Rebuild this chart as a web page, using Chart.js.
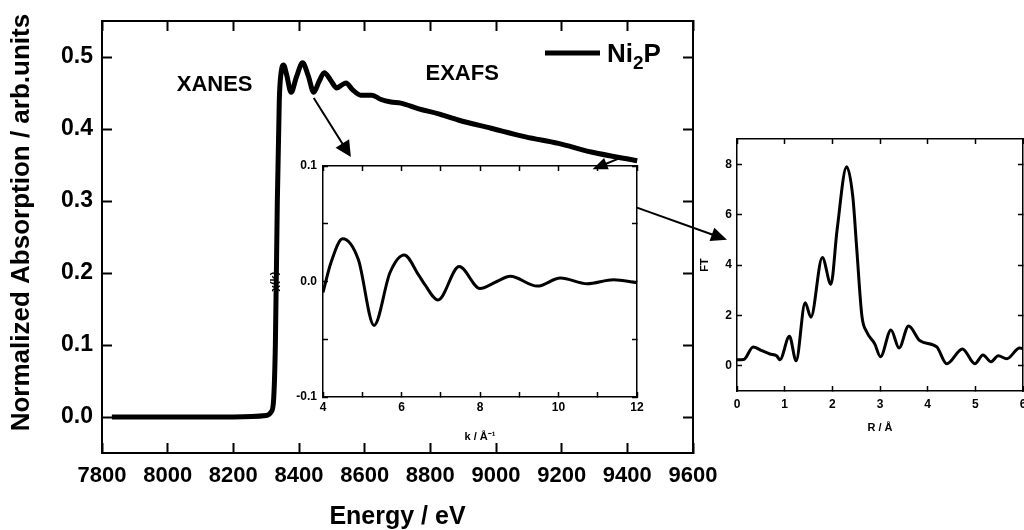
<!DOCTYPE html>
<html>
<head>
<meta charset="utf-8">
<title>Ni2P XAS</title>
<script src="https://cdn.jsdelivr.net/npm/chart.js@4.4.1/dist/chart.umd.min.js"></script>
<style>
  html, body { margin: 0; padding: 0; background: #fff; }
  #stage { position: relative; width: 1024px; height: 530px; overflow: hidden; }
  #stage canvas { position: absolute; }
  #mainCanvas { left: 0; top: 0; }
  #insetCanvas { left: 250px; top: 150px; }
  #ftCanvas { left: 690px; top: 120px; }
  #arrowCanvas { left: 0; top: 0; pointer-events: none; }
</style>
</head>
<body>
<div id="stage">
  <canvas id="mainCanvas" width="1024" height="530"></canvas>
  <canvas id="insetCanvas" width="400" height="300"></canvas>
  <canvas id="ftCanvas" width="334" height="320"></canvas>
  <canvas id="arrowCanvas" width="1024" height="530"></canvas>
</div>
<script>
// ---- data ----
// main XAS spectrum (Ni K-edge)
const energy = [7830, 8000, 8200, 8300, 8315, 8322, 8328, 8334, 8340, 8346, 8353, 8362, 8376, 8392, 8411,
  8428, 8445, 8461, 8477, 8496, 8515, 8530, 8543, 8562, 8588, 8622, 8650, 8680, 8710, 8765, 8825, 8885,
  8985, 9090, 9190, 9290, 9430];
const absorption = [0.0, 0.0, 0.0, 0.002, 0.007, 0.02, 0.1, 0.3, 0.44, 0.48, 0.489, 0.476, 0.451, 0.472, 0.492,
  0.474, 0.451, 0.466, 0.478, 0.468, 0.457, 0.461, 0.464, 0.455, 0.447, 0.447, 0.441, 0.4375, 0.436, 0.428, 0.421, 0.4125,
  0.401, 0.389, 0.380, 0.368, 0.356];
const energyTicks = [7800, 8000, 8200, 8400, 8600, 8800, 9000, 9200, 9400, 9600];
const absorptionTicks = [0.0, 0.1, 0.2, 0.3, 0.4, 0.5];

// inset: chi(k)
const kValues = [4.0, 4.2, 4.5, 4.9, 5.3, 5.71, 6.07, 6.43, 6.6, 6.93, 7.47, 8.0, 8.43, 8.77, 9.46, 10.05, 10.73, 11.4, 12.0];
const chiValues = [-0.0095, 0.016, 0.037, 0.019, -0.038, 0.008, 0.023, 0.006, -0.003, -0.016, 0.013, -0.006, 0.0, 0.0045,
  -0.004, 0.003, -0.002, 0.0015, -0.001];
const kTicks = [4, 5, 6, 7, 8, 9, 10, 11, 12];
const chiTicks = [-0.1, -0.05, 0, 0.05, 0.1];

// right panel: Fourier transform
const rValues = [0, 0.14, 0.34, 0.52, 0.69, 0.83, 0.9, 1.1, 1.24, 1.43, 1.55, 1.79, 1.97, 2.1, 2.3, 2.43, 2.51, 2.62,
  2.72, 2.89, 3.01, 3.23, 3.4, 3.6, 3.84, 4.19, 4.4, 4.73, 4.99, 5.16, 5.33, 5.48, 5.66, 5.93, 6.0];
const ftValues = [0.24, 0.25, 0.75, 0.6, 0.47, 0.4, 0.24, 1.17, 0.2, 2.5, 1.93, 4.3, 3.24, 5.4, 7.9, 6.7, 4.7, 1.98,
  1.35, 0.87, 0.36, 1.42, 0.71, 1.58, 0.99, 0.75, 0.08, 0.67, 0.08, 0.43, 0.16, 0.4, 0.28, 0.71, 0.68];
const rTicks = [0, 1, 2, 3, 4, 5, 6];
const ftTicks = [0, 2, 4, 6, 8];

const FONT = "'Liberation Sans', Arial, sans-serif";
Chart.defaults.font.family = FONT;
Chart.defaults.font.weight = 'bold';
Chart.defaults.color = '#000';

// ---- helpers ----
const toPoints = (xs, ys) => xs.map((v, i) => ({ x: v, y: ys[i] }));

// box axis: inward ticks, fixed box size, optional labels/title
function boxAxis(o) {
  return {
    type: 'linear',
    position: o.position,
    min: o.min,
    max: o.max,
    afterBuildTicks: scale => { scale.ticks = o.ticks.map(v => ({ value: v })); },
    afterFit: scale => {
      if (scale.isHorizontal()) scale.height = o.size; else scale.width = o.size;
      scale.paddingLeft = scale.paddingRight = scale.paddingTop = scale.paddingBottom = 0;
    },
    grid: {
      drawOnChartArea: false,
      drawTicks: true,
      tickLength: -o.tick,
      tickColor: '#000',
      tickWidth: o.line,
      color: '#000'
    },
    border: { display: true, color: '#000', width: o.line },
    ticks: {
      display: !!o.label,
      autoSkip: false,
      maxRotation: 0,
      padding: o.pad || 0,
      font: o.font,
      callback: o.label || (() => '')
    },
    title: o.title || { display: false }
  };
}

function baseOptions(padding, scales) {
  return {
    responsive: false,
    animation: false,
    devicePixelRatio: 1,
    layout: { padding },
    plugins: { legend: { display: false }, tooltip: { enabled: false } },
    elements: { point: { radius: 0 } },
    scales
  };
}

// ---- main chart: labels and legend drawn on top ----
const regionLabels = [
  { text: 'XANES', energy: 8143, level: 0.461 },
  { text: 'EXAFS', energy: 8897, level: 0.476 }
];
const mainYTitle = 'Normalized Absorption / arb.units';

const mainLabels = {
  id: 'mainLabels',
  afterDatasetsDraw(chart) {
    const { ctx, chartArea, scales: { x, y } } = chart;
    ctx.save();
    ctx.fillStyle = '#000';
    ctx.textAlign = 'center';
    ctx.textBaseline = 'middle';
    ctx.font = `bold 22px ${FONT}`;
    regionLabels.forEach(r => ctx.fillText(r.text, x.getPixelForValue(r.energy), y.getPixelForValue(r.level)));

    // y-axis title, sits a bit above the axis centre in the original
    ctx.save();
    ctx.translate(22, y.getPixelForValue(0.27));
    ctx.rotate(-Math.PI / 2);
    ctx.font = `bold 26px ${FONT}`;
    ctx.fillText(mainYTitle, 0, 0);
    ctx.restore();

    // legend: line sample + Ni2P with subscript
    const ds = chart.data.datasets[0];
    const ly = chartArea.top + 32;
    const lx = chartArea.right - 148;
    ctx.strokeStyle = ds.borderColor;
    ctx.lineWidth = ds.borderWidth;
    ctx.beginPath();
    ctx.moveTo(lx, ly);
    ctx.lineTo(lx + 55, ly);
    ctx.stroke();
    ctx.textAlign = 'left';
    ctx.textBaseline = 'alphabetic';
    let tx = lx + 62;
    const base = ly + 9;
    ctx.font = `bold 26px ${FONT}`;
    ctx.fillText('Ni', tx, base);
    tx += ctx.measureText('Ni').width;
    ctx.font = `bold 19px ${FONT}`;
    ctx.fillText('2', tx, base + 7);
    tx += ctx.measureText('2').width;
    ctx.font = `bold 26px ${FONT}`;
    ctx.fillText('P', tx, base);
    ctx.restore();
  }
};

const mainChart = new Chart(document.getElementById('mainCanvas'), {
  type: 'line',
  data: {
    datasets: [{
      label: 'Ni2P',
      data: toPoints(energy, absorption),
      borderColor: '#000',
      borderWidth: 5,
      cubicInterpolationMode: 'monotone',
      fill: false
    }]
  },
  options: baseOptions({ left: 0, top: 21, right: 331, bottom: 0 }, {
    x: boxAxis({
      position: 'bottom', min: 7800, max: 9600, ticks: energyTicks, size: 77, tick: 10, line: 2, pad: 20,
      font: { size: 22, weight: 'bold' }, label: v => String(v),
      title: { display: true, text: 'Energy / eV', font: { size: 25, weight: 'bold' }, padding: { top: 0, bottom: -2 } }
    }),
    x2: boxAxis({ position: 'top', min: 7800, max: 9600, ticks: energyTicks, size: 0, tick: 10, line: 2 }),
    y: boxAxis({
      position: 'left', min: -0.05, max: 0.55, ticks: absorptionTicks, size: 102, tick: 10, line: 2, pad: 19,
      font: { size: 23, weight: 'bold' }, label: v => v.toFixed(1)
    }),
    y2: boxAxis({ position: 'right', min: -0.05, max: 0.55, ticks: absorptionTicks, size: 0, tick: 10, line: 2 })
  }),
  plugins: [mainLabels]
});

// ---- inset: chi(k) ----
const chiLabel = v => (Math.abs(v * 10 - Math.round(v * 10)) < 1e-6 ? v.toFixed(1) : '');
const kLabel = v => (v % 2 === 0 ? String(v) : '');

const insetChart = new Chart(document.getElementById('insetCanvas'), {
  type: 'line',
  data: {
    datasets: [{
      label: 'chi',
      data: toPoints(kValues, chiValues),
      borderColor: '#000',
      borderWidth: 3,
      cubicInterpolationMode: 'monotone',
      fill: false
    }]
  },
  options: baseOptions({ left: 0, top: 16, right: 13, bottom: 0 }, {
    x: boxAxis({
      position: 'bottom', min: 4, max: 12, ticks: kTicks, size: 53, tick: 5, line: 1.5, pad: 8,
      font: { size: 12, weight: 'bold' }, label: kLabel,
      title: { display: true, text: 'k / Å⁻¹', font: { size: 11, weight: 'bold' }, padding: { top: 0, bottom: 6 } }
    }),
    x2: boxAxis({ position: 'top', min: 4, max: 12, ticks: kTicks, size: 0, tick: 5, line: 1.5 }),
    y: boxAxis({
      position: 'left', min: -0.1, max: 0.1, ticks: chiTicks, size: 73, tick: 5, line: 1.5, pad: 11,
      font: { size: 12, weight: 'bold' }, label: chiLabel,
      title: { display: true, text: 'χ(k)', font: { size: 11, weight: 'bold' }, padding: { top: 18, bottom: 0 } }
    }),
    y2: boxAxis({ position: 'right', min: -0.1, max: 0.1, ticks: chiTicks, size: 0, tick: 5, line: 1.5 })
  })
});

// ---- right panel: FT ----
const ftChart = new Chart(document.getElementById('ftCanvas'), {
  type: 'line',
  data: {
    datasets: [{
      label: 'FT',
      data: toPoints(rValues, ftValues),
      borderColor: '#000',
      borderWidth: 3,
      cubicInterpolationMode: 'monotone',
      fill: false
    }]
  },
  options: baseOptions({ left: 0, top: 19, right: 1, bottom: 0 }, {
    x: boxAxis({
      position: 'bottom', min: 0, max: 6, ticks: rTicks, size: 49, tick: 5, line: 1.5, pad: 11,
      font: { size: 12, weight: 'bold' }, label: v => String(v),
      title: { display: true, text: 'R / Å', font: { size: 11, weight: 'bold' }, padding: { top: 0, bottom: 5 } }
    }),
    x2: boxAxis({ position: 'top', min: 0, max: 6, ticks: rTicks, size: 0, tick: 5, line: 1.5 }),
    y: boxAxis({
      position: 'left', min: -1, max: 9, ticks: ftTicks, size: 47, tick: 5, line: 1.5, pad: 10,
      font: { size: 12, weight: 'bold' }, label: v => String(v),
      title: { display: true, text: 'FT', font: { size: 11, weight: 'bold' }, padding: { top: 8, bottom: 0 } }
    }),
    y2: boxAxis({ position: 'right', min: -1, max: 9, ticks: ftTicks, size: 0, tick: 5, line: 1.5 })
  })
});

// ---- arrows linking the panels (anchored in data coordinates) ----
const arrows = [
  { from: [mainChart, 8445, 0.443], to: [mainChart, 8558, 0.361], head: 16, half: 8 },
  { from: [mainChart, 9379, 0.360], to: [mainChart, 9294, 0.344], head: 15, half: 6 },
  { from: [insetChart, 12, 0.064], to: [ftChart, -0.21, 5.0], head: 16, half: 7 }
];

function pagePoint(chart, xv, yv) {
  const c = chart.canvas;
  return [c.offsetLeft + chart.scales.x.getPixelForValue(xv), c.offsetTop + chart.scales.y.getPixelForValue(yv)];
}

function drawArrows() {
  const ctx = document.getElementById('arrowCanvas').getContext('2d');
  ctx.strokeStyle = '#000';
  ctx.fillStyle = '#000';
  ctx.lineWidth = 2;
  arrows.forEach(a => {
    const [x1, y1] = pagePoint(...a.from);
    const [x2, y2] = pagePoint(...a.to);
    const ang = Math.atan2(y2 - y1, x2 - x1);
    const cos = Math.cos(ang), sin = Math.sin(ang);
    ctx.beginPath();
    ctx.moveTo(x1, y1);
    ctx.lineTo(x2 - a.head * 0.8 * cos, y2 - a.head * 0.8 * sin);
    ctx.stroke();
    ctx.beginPath();
    ctx.moveTo(x2, y2);
    ctx.lineTo(x2 - a.head * cos + a.half * sin, y2 - a.head * sin - a.half * cos);
    ctx.lineTo(x2 - a.head * cos - a.half * sin, y2 - a.head * sin + a.half * cos);
    ctx.closePath();
    ctx.fill();
  });
}

drawArrows();
</script>
</body>
</html>
